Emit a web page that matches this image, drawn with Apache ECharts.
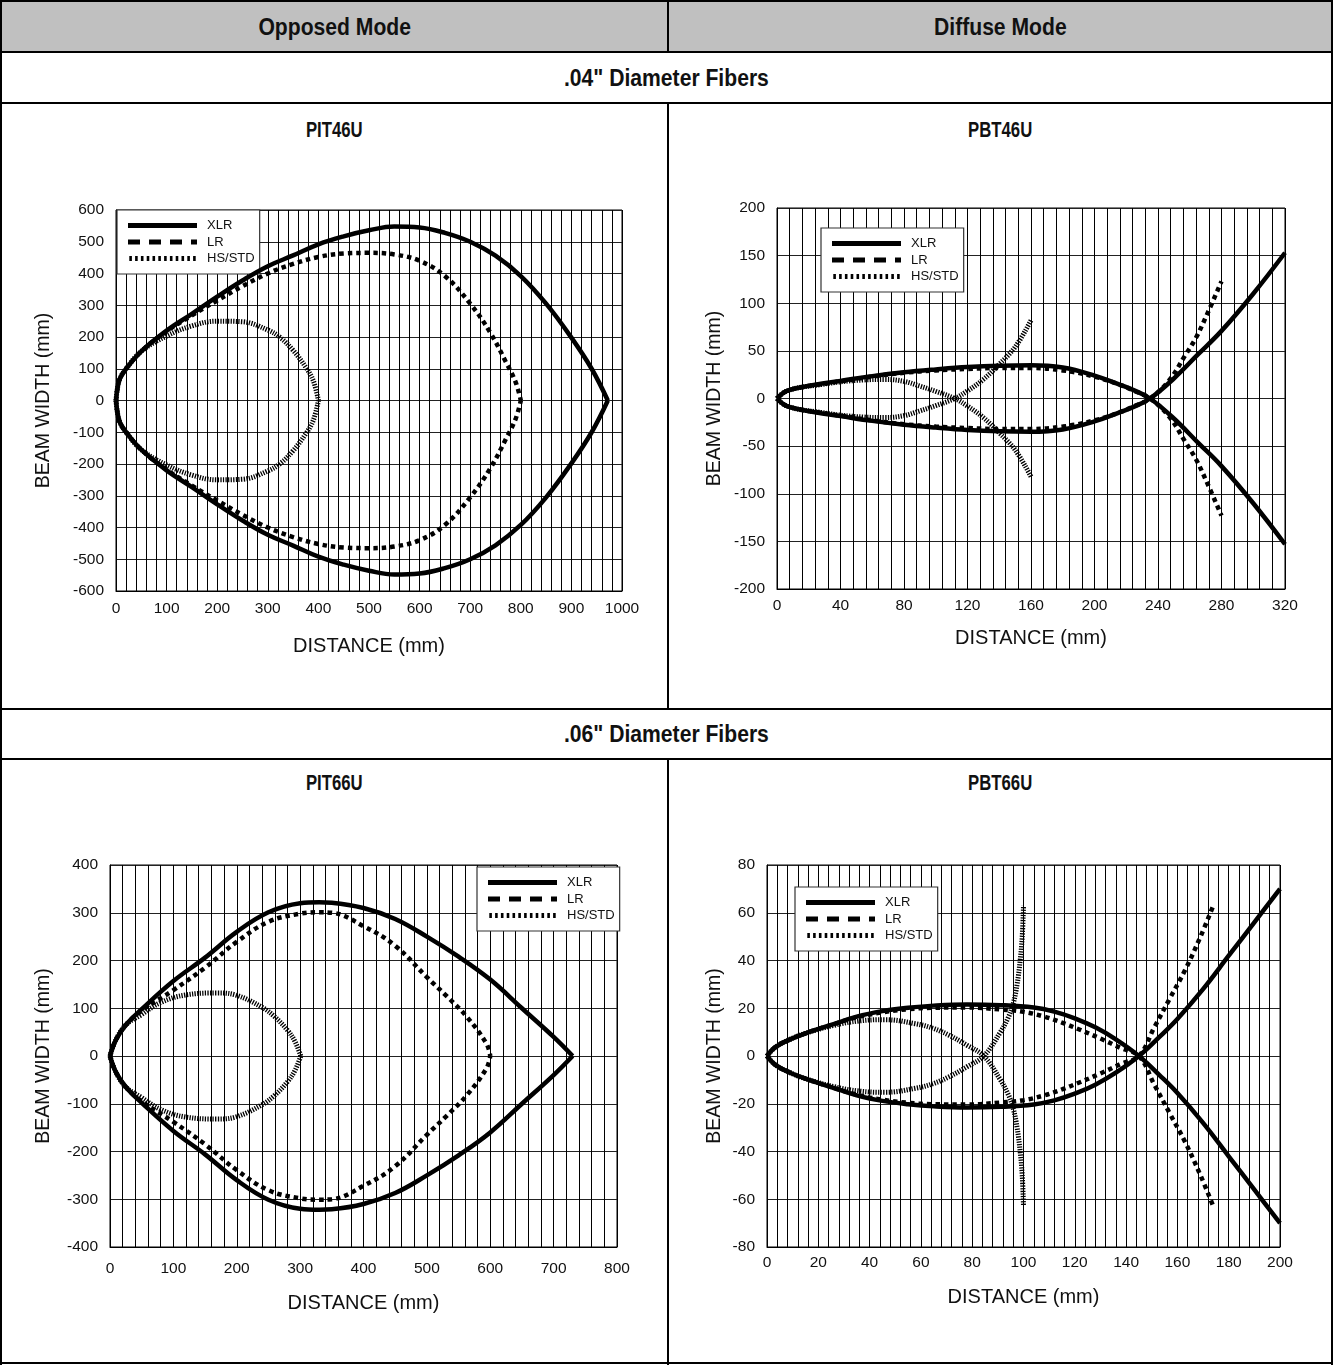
<!DOCTYPE html>
<html>
<head>
<meta charset="utf-8">
<script src="https://cdn.jsdelivr.net/npm/echarts@6/dist/echarts.min.js"></script>
<style>
  html, body { margin: 0; padding: 0; background: #fff; }
  #page { position: relative; width: 1333px; height: 1365px; overflow: hidden;
          font-family: "Liberation Sans", Arial, sans-serif; color: #111; }
  .rule { position: absolute; background: #000; }
  .band { position: absolute; background: #c0c0c0; }
  .cell { position: absolute; text-align: center; font-weight: bold; }
  .cell span { display: inline-block; transform-origin: 50% 50%; }
  .head { font-size: 24px; line-height: 28px; }
  .head span { transform: scaleX(0.88); }
  .ttl { font-size: 22px; line-height: 26px; }
  .ttl span { transform: scaleX(0.76); }
  #chart { position: absolute; left: 0; top: 0; width: 1333px; height: 1365px; }
</style>
</head>
<body>
<div id="page">
  <div class="band" style="left:0;top:0;width:1333px;height:52px;"></div>

  <div class="cell head" style="left:2px;top:13px;width:665px;"><span>Opposed Mode</span></div>
  <div class="cell head" style="left:669px;top:13px;width:662px;"><span>Diffuse Mode</span></div>
  <div class="cell head" style="left:2px;top:64px;width:1329px;"><span>.04" Diameter Fibers</span></div>
  <div class="cell ttl" style="left:2px;top:117px;width:665px;"><span>PIT46U</span></div>
  <div class="cell ttl" style="left:669px;top:117px;width:662px;"><span>PBT46U</span></div>
  <div class="cell head" style="left:2px;top:720px;width:1329px;"><span>.06" Diameter Fibers</span></div>
  <div class="cell ttl" style="left:2px;top:770px;width:665px;"><span>PIT66U</span></div>
  <div class="cell ttl" style="left:669px;top:770px;width:662px;"><span>PBT66U</span></div>

  <!-- table rules -->
  <div class="rule" style="left:0;top:0;width:1333px;height:2px;"></div>
  <div class="rule" style="left:0;top:1362px;width:1333px;height:2px;"></div>
  <div class="rule" style="left:0;top:0;width:2px;height:1365px;"></div>
  <div class="rule" style="left:1331px;top:0;width:2px;height:1365px;"></div>
  <div class="rule" style="left:0;top:51px;width:1333px;height:2px;"></div>
  <div class="rule" style="left:0;top:102px;width:1333px;height:2px;"></div>
  <div class="rule" style="left:0;top:708px;width:1333px;height:2px;"></div>
  <div class="rule" style="left:0;top:758px;width:1333px;height:2px;"></div>
  <div class="rule" style="left:667px;top:0;width:2px;height:52px;"></div>
  <div class="rule" style="left:667px;top:103px;width:2px;height:606px;"></div>
  <div class="rule" style="left:667px;top:759px;width:2px;height:606px;"></div>

  <div id="chart"></div>
</div>
<script>
// Beam patterns. Opposed mode: half beam width (mm) vs distance (mm), drawn as a +/- outline.
// Diffuse mode: one branch (starts upward, crosses the axis); the other branch is its mirror.

// PIT46U (opposed, .04")
const pit46uXlrDist = [0, 3, 8, 20, 50, 100, 150, 200, 250, 300, 350, 400, 450, 500, 550, 600, 650, 700, 750, 800, 850, 900, 940, 972];
const pit46uXlrWidth = [0, 40, 70, 100, 155, 220, 273, 327, 378, 423, 457, 492, 517, 536, 548, 545, 528, 500, 456, 392, 305, 198, 100, 0];
const pit46uLrDist = [0, 3, 8, 20, 50, 100, 150, 200, 250, 300, 350, 400, 450, 500, 550, 600, 650, 700, 740, 770, 790, 800];
const pit46uLrWidth = [0, 40, 70, 100, 155, 218, 268, 315, 360, 400, 430, 452, 463, 465, 460, 440, 392, 305, 213, 123, 57, 0];
const pit46uHsDist = [0, 3, 8, 20, 50, 100, 150, 200, 250, 300, 325, 350, 375, 390, 400];
const pit46uHsWidth = [0, 40, 70, 100, 155, 203, 235, 250, 248, 222, 198, 158, 105, 62, 0];

// PBT46U (diffuse, .04")
const pbt46uXlrDist = [0, 4, 8, 16, 24, 40, 60, 80, 100, 120, 140, 160, 180, 200, 215, 225, 235, 250, 265, 280, 300, 320];
const pbt46uXlrWidth = [0, 6, 9, 12, 14.5, 18.5, 23.5, 27.5, 30.5, 33, 34.5, 35, 32.5, 24, 15, 8.5, 0, -21, -46, -71, -110, -153];
const pbt46uLrDist = [0, 4, 8, 16, 24, 40, 60, 80, 100, 120, 140, 160, 180, 200, 215, 225, 235, 247, 257, 264, 270, 280];
const pbt46uLrWidth = [0, 6, 9, 12, 14, 18, 23, 27, 29.5, 31, 32, 32, 29.5, 23, 15, 8, 0, -19, -45, -64, -85, -123];
const pbt46uHsDist = [0, 4, 8, 16, 25, 40, 55, 68, 80, 90, 100, 112, 120, 130, 140, 150, 160];
const pbt46uHsWidth = [0, 6, 9, 12, 14, 17.5, 19.5, 20, 18, 13, 7.5, 0, -8, -20, -36, -54, -82];

// PIT66U (opposed, .06")
const pit66uXlrDist = [0, 9, 25, 50, 100, 150, 200, 250, 300, 330, 350, 400, 450, 500, 550, 600, 650, 700, 730];
const pit66uXlrWidth = [0, 33, 65, 98, 157, 206, 260, 301, 320, 322, 321, 310, 287, 250, 208, 160, 100, 40, 0];
const pit66uLrDist = [0, 9, 25, 50, 100, 150, 200, 250, 300, 330, 350, 400, 450, 500, 530, 563, 594, 600];
const pit66uLrWidth = [0, 33, 65, 95, 138, 185, 239, 281, 298, 301, 300, 272, 231, 165, 127, 82, 26, 0];
const pit66uHsDist = [0, 9, 25, 50, 80, 120, 170, 200, 240, 260, 280, 292, 301];
const pit66uHsWidth = [0, 33, 65, 87, 112, 128, 132, 127, 102, 82, 54, 30, 0];

// PBT66U (diffuse, .06")
const pbt66uXlrDist = [0, 3, 8, 15, 25, 35, 45, 55, 65, 78, 91, 104, 112, 120, 128, 136, 145, 153, 160, 170, 180, 190, 200];
const pbt66uXlrWidth = [0, 3.5, 6.5, 9.5, 13, 16.5, 18.8, 20.2, 21.1, 21.6, 21.3, 20.3, 18.6, 15.8, 12, 7, 0, -8, -15.5, -28, -42, -56, -70];
const pbt66uLrDist = [0, 3, 8, 15, 25, 35, 45, 55, 65, 78, 91, 100, 108, 115, 122, 130, 138, 145, 151, 157, 163, 169, 174];
const pbt66uLrWidth = [0, 3.5, 6.5, 9.5, 13, 16.2, 18.3, 19.6, 20.2, 20.3, 19.5, 18.5, 16.5, 14, 11, 7.3, 3.3, 0, -12, -24, -36, -50, -63];
const pbt66uHsDist = [0, 3, 8, 15, 26, 36, 46, 58, 65, 71, 78, 84.5, 91, 94, 96, 97.5, 98.7, 99.5, 100];
const pbt66uHsWidth = [0, 3.5, 6.5, 9.5, 12.8, 14.7, 15.2, 13.5, 11.5, 8.7, 4.5, 0, -10, -16, -22, -30, -40, -50, -63];

// Axis ranges and tick steps
const xMax = [1000, 320, 800, 200];
const xStep = [100, 40, 100, 20];
const yMax = [600, 200, 400, 80];
const yStep = [100, 50, 100, 20];
const legendNames = ['XLR', 'LR', 'HS/STD'];

const FONT = '"Liberation Sans", Arial, sans-serif';
const INK = '#111';

const grids = [
  { left: 116, top: 210, width: 506, height: 381 },
  { left: 777, top: 208, width: 508, height: 381 },
  { left: 110, top: 865, width: 507, height: 382 },
  { left: 767, top: 865, width: 513, height: 382 }
];
const xNameGap = [45, 39, 46, 40];
const xLabelMargin = [10, 9, 14, 8];
const yNameGap = [62, 52, 56, 42];
const legendPos = [
  { left: 117, top: 210 },
  { left: 821, top: 228 },
  { left: 477, top: 867 },
  { left: 795, top: 887 }
];

const lineStyles = {
  'XLR': { color: '#000', width: 4.5, type: 'solid', join: 'round' },
  'LR': { color: '#000', width: 4.5, type: [4.5, 4], cap: 'butt' },
  'HS/STD': { color: '#000', width: 5, type: [1.3, 1.3], cap: 'butt' }
};

// legend samples drawn as filled paths (solid bar, long dashes, short ticks)
function dashPath(segments) {
  return 'path://' + segments.map(s => 'M' + s[0] + ' 0H' + s[1] + 'V5H' + s[0] + 'Z').join('');
}
const hsTicks = [];
for (let i = 0; i < 12; i++) hsTicks.push([+(i * 5.8).toFixed(1), +(i * 5.8 + 2.6).toFixed(1)]);
const legendIcons = {
  'XLR': dashPath([[0, 69]]),
  'LR': dashPath([[0, 12], [21, 33], [42, 54], [63, 69]]),
  'HS/STD': dashPath(hsTicks)
};

function pts(xs, ys, sign) {
  return xs.map((x, i) => [x, sign * ys[i]]);
}

// each curve = two halves (upper / lower, or the two mirrored diffuse branches)
function curve(name, gi, xs, ys) {
  return [1, -1].map(sign => ({
    type: 'line',
    name: name,
    xAxisIndex: gi,
    yAxisIndex: gi,
    data: pts(xs, ys, sign),
    smooth: 0.4,
    symbol: 'none',
    showSymbol: false,
    silent: true,
    color: '#000',
    lineStyle: lineStyles[name],
    z: name === 'XLR' ? 4 : 3
  }));
}

const series = [].concat(
  curve('XLR', 0, pit46uXlrDist, pit46uXlrWidth),
  curve('LR', 0, pit46uLrDist, pit46uLrWidth),
  curve('HS/STD', 0, pit46uHsDist, pit46uHsWidth),
  curve('XLR', 1, pbt46uXlrDist, pbt46uXlrWidth),
  curve('LR', 1, pbt46uLrDist, pbt46uLrWidth),
  curve('HS/STD', 1, pbt46uHsDist, pbt46uHsWidth),
  curve('XLR', 2, pit66uXlrDist, pit66uXlrWidth),
  curve('LR', 2, pit66uLrDist, pit66uLrWidth),
  curve('HS/STD', 2, pit66uHsDist, pit66uHsWidth),
  curve('XLR', 3, pbt66uXlrDist, pbt66uXlrWidth),
  curve('LR', 3, pbt66uLrDist, pbt66uLrWidth),
  curve('HS/STD', 3, pbt66uHsDist, pbt66uHsWidth)
);

const option = {
  animation: false,
  backgroundColor: 'transparent',
  textStyle: { fontFamily: FONT, color: INK },
  grid: grids.map(g => Object.assign({ show: true, borderColor: '#000', borderWidth: 1, backgroundColor: 'transparent' }, g)),
  xAxis: grids.map((g, i) => ({
    type: 'value',
    gridIndex: i,
    min: 0,
    max: xMax[i],
    interval: xStep[i],
    name: 'DISTANCE (mm)',
    nameLocation: 'middle',
    nameGap: xNameGap[i],
    nameTextStyle: { fontFamily: FONT, fontSize: 20, color: INK },
    axisLine: { show: true, onZero: false, lineStyle: { color: '#000', width: 1 } },
    axisTick: { show: false },
    axisLabel: { fontFamily: FONT, fontSize: 15.5, color: INK, margin: xLabelMargin[i], formatter: v => String(v) },
    splitLine: { show: true, lineStyle: { color: '#000', width: 1 } },
    minorTick: { show: false, splitNumber: 5 },
    minorSplitLine: { show: true, lineStyle: { color: '#000', width: 1 } }
  })),
  yAxis: grids.map((g, i) => ({
    type: 'value',
    gridIndex: i,
    min: -yMax[i],
    max: yMax[i],
    interval: yStep[i],
    name: 'BEAM WIDTH (mm)',
    nameLocation: 'middle',
    nameGap: yNameGap[i],
    nameTextStyle: { fontFamily: FONT, fontSize: 19.5, color: INK },
    axisLine: { show: true, onZero: false, lineStyle: { color: '#000', width: 1 } },
    axisTick: { show: false },
    axisLabel: { fontFamily: FONT, fontSize: 15.5, color: INK, margin: 12, formatter: v => String(v) },
    splitLine: { show: true, lineStyle: { color: '#222', width: 1 } }
  })),
  legend: legendPos.map(p => ({
    left: p.left,
    top: p.top,
    orient: 'vertical',
    selectedMode: false,
    itemWidth: 69,
    itemHeight: 5,
    itemGap: 3.5,
    padding: [9, 5, 9, 11],
    backgroundColor: '#fff',
    borderColor: '#333',
    borderWidth: 1.2,
    borderRadius: 0,
    itemStyle: { color: '#000', borderWidth: 0 },
    textStyle: { fontFamily: FONT, fontSize: 13, color: INK, padding: [0, 0, 0, 5] },
    data: legendNames.map(n => ({ name: n, icon: legendIcons[n] }))
  })),
  series: series
};

const chart = echarts.init(document.getElementById('chart'), null, { renderer: 'canvas' });
chart.setOption(option);
</script>
</body>
</html>
